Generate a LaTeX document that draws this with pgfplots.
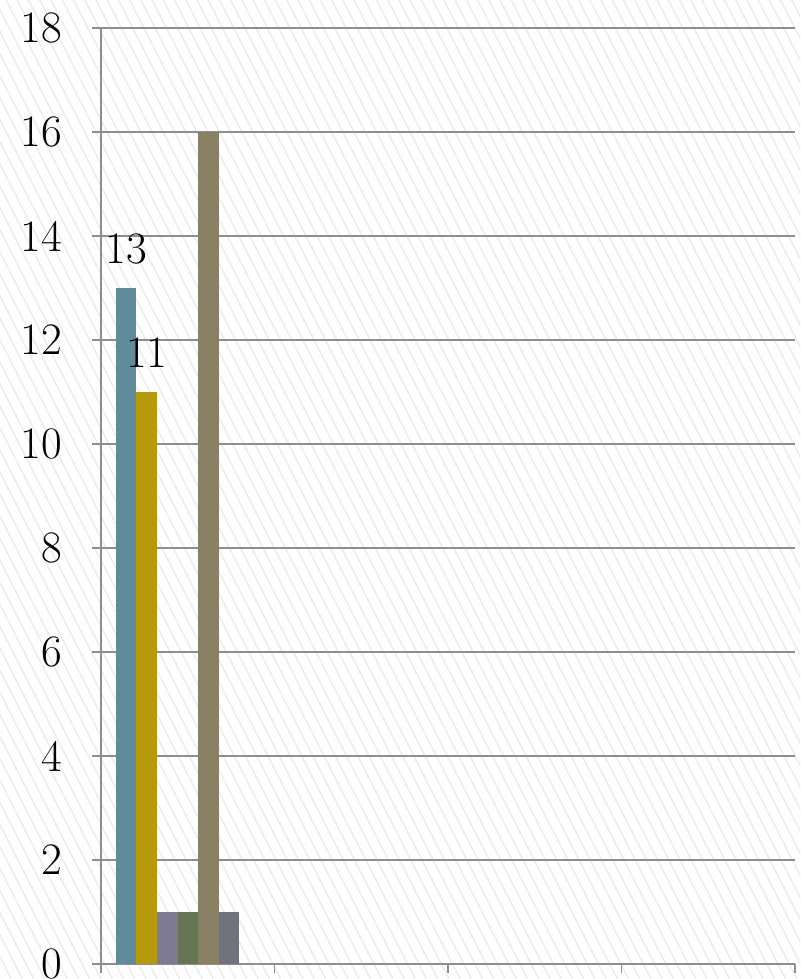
\documentclass[border=0pt]{standalone}
\usepackage{pgfplots}
\pgfplotsset{compat=1.18}
\usetikzlibrary{patterns.meta}
\definecolor{c1}{HTML}{5F8B9B}
\definecolor{c2}{HTML}{B59B0B}
\definecolor{c3}{HTML}{7E7A93}
\definecolor{c4}{HTML}{677554}
\definecolor{c5}{HTML}{8A8064}
\definecolor{c6}{HTML}{6F737E}
\definecolor{axgray}{HTML}{8E8E8E}
\definecolor{hatch}{HTML}{EBEBEB}
\begin{document}
\begin{tikzpicture}
\useasboundingbox (-101pt,-15pt) rectangle (699pt,964pt);
\fill[white] (-101pt,-15pt) rectangle (699pt,964pt);
\fill[pattern={Lines[angle=-63,distance=10pt,line width=1.3pt]}, pattern color=hatch] (-101pt,-15pt) rectangle (699pt,964pt);
\begin{axis}[
  scale only axis, width=694pt, height=936pt,
  ymin=0, ymax=18, ytick={0,2,...,18},
  xmin=-0.5, xmax=3.5, xtick={-0.5,0.5,1.5,2.5,3.5}, xticklabels={},
  axis x line*=bottom, axis y line*=left,
  ymajorgrids, grid style={color=axgray, line width=1.6pt},
  axis line style={color=axgray, line width=1.6pt},
  tick style={color=axgray, line width=1.6pt},
  tick align=outside, major tick length=9pt,
  /pgf/number format/assume math mode=true,
  yticklabel style={font=\fontsize{45}{48}\selectfont, anchor=east, inner sep=0pt, xshift=-30pt},
  ybar, bar width=20.5pt,
  nodes near coords style={font=\fontsize{45}{48}\selectfont, inner sep=0pt, anchor=south, yshift=24pt},
  clip=false,
]
\addplot[ybar, fill=c1, draw=none, bar shift=-61.5pt, nodes near coords] coordinates {(0,13)};
\addplot[ybar, fill=c2, draw=none, bar shift=-41pt, nodes near coords] coordinates {(0,11)};
\addplot[ybar, fill=c3, draw=none, bar shift=-20.5pt] coordinates {(0,1)};
\addplot[ybar, fill=c4, draw=none, bar shift=0pt] coordinates {(0,1)};
\addplot[ybar, fill=c5, draw=none, bar shift=20.5pt] coordinates {(0,16)};
\addplot[ybar, fill=c6, draw=none, bar shift=41pt] coordinates {(0,1)};
\end{axis}
\end{tikzpicture}
\end{document}
